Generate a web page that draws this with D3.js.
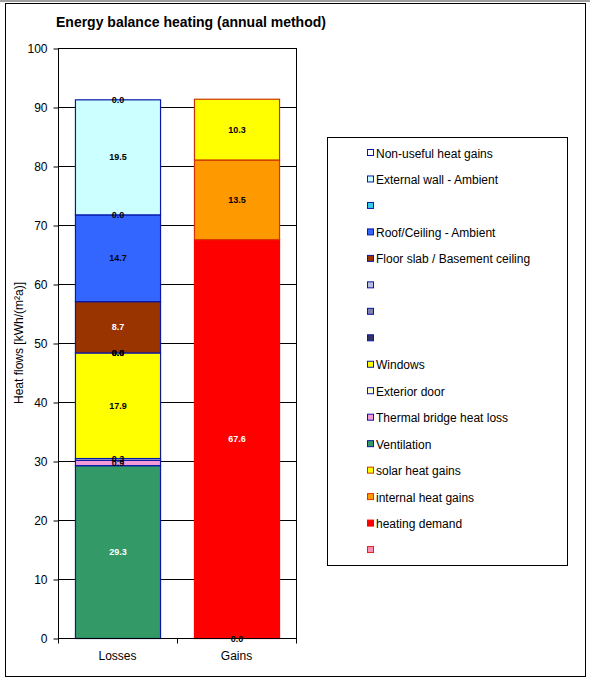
<!DOCTYPE html>
<html><head><meta charset="utf-8">
<script src="https://cdn.jsdelivr.net/npm/d3@7"></script>
<style>body{margin:0;background:#fff;} svg{display:block;font-family:Arial,"Liberation Sans",sans-serif;}</style>
</head><body>
<svg id="c" width="590" height="680"></svg>
<script>
const categories = ["Losses", "Gains"];
// series in stacking order (bottom to top); null = no data in that category
const seriesNames = ["", "heating demand", "internal heat gains", "solar heat gains",
  "Ventilation", "Thermal bridge heat loss", "Exterior door", "Windows",
  "", "", "", "Floor slab / Basement ceiling", "Roof/Ceiling - Ambient", "",
  "External wall - Ambient", "Non-useful heat gains"];
const lossValues = [null, null, null, null, 29.3, 0.9, 0.3, 17.9, 0.0, 0.0, 0.0, 8.7, 14.7, 0.0, 19.5, 0.0];
const gainValues = [0.0, 67.6, 13.5, 10.3, null, null, null, null, null, null, null, null, null, null, null, null];
const seriesColors = ["#FF8FB0", "#FF0000", "#FF9900", "#FFFF00",
  "#339966", "#F49AD8", "#FFFFCC", "#FFFF00",
  "#333366", "#8080B0", "#BDBDE0", "#993300", "#3366FF", "#33CCEE",
  "#CCFFFF", "#FFFFFF"];
const seriesBorders = ["#DD2222", "#FF0000", "#DD3300", "#CC3300",
  "#0818A8", "#0818A8", "#0818A8", "#0818A8",
  "#0818A8", "#0818A8", "#0818A8", "#0818A8", "#0818A8", "#0818A8",
  "#0818A8", "#0818A8"];
const yTicks = [0, 10, 20, 30, 40, 50, 60, 70, 80, 90, 100];

const svg = d3.select("#c");
// outer frame
svg.append("rect").attr("x", 0).attr("y", 0).attr("width", 590).attr("height", 2).attr("fill", "#a0a0a0");
svg.append("rect").attr("x", 5.5).attr("y", 3.5).attr("width", 580).attr("height", 673)
  .attr("fill", "#fff").attr("stroke", "#000").attr("stroke-width", 1);

svg.append("text").attr("x", 56).attr("y", 27).attr("font-size", 14).attr("font-weight", "bold")
  .text("Energy balance heating (annual method)");

const L = 58, R = 296, T = 48, B = 638;
const y = d3.scaleLinear().domain([0, 100]).range([B, T]);
const x = d3.scaleBand().domain(categories).range([L, R]).paddingInner(0.285).paddingOuter(0.1425);

// gridlines
svg.append("g").selectAll("line").data(yTicks.slice(1)).join("line")
  .attr("x1", L).attr("x2", R).attr("y1", d => Math.round(y(d)) + 0.5).attr("y2", d => Math.round(y(d)) + 0.5)
  .attr("stroke", "#000").attr("stroke-width", 1);
// plot border right/top
svg.append("rect").attr("x", L + 0.5).attr("y", T + 0.5).attr("width", R - L).attr("height", B - T)
  .attr("fill", "none").attr("stroke", "#000");

// stacking
const valuesByCat = {Losses: lossValues, Gains: gainValues};
const segs = [];
categories.forEach(cat => {
  let acc = 0;
  valuesByCat[cat].forEach((v, i) => {
    if (v === null) return;
    segs.push({cat, i, y0: acc, y1: acc + v, v});
    acc += v;
  });
});

const g = svg.append("g");
g.selectAll("rect").data(segs).join("rect")
  .attr("x", d => x(d.cat) + 0.5).attr("width", x.bandwidth())
  .attr("y", d => y(d.y1) + 0.5).attr("height", d => y(d.y0) - y(d.y1))
  .attr("fill", d => seriesColors[d.i]).attr("stroke", d => seriesBorders[d.i])
  .attr("stroke-width", d => d.v === 0 ? 2 : 1.2);

const darkFill = new Set(["#339966", "#993300", "#FF0000", "#333366"]);
g.selectAll("text").data(segs).join("text")
  .attr("x", d => x(d.cat) + x.bandwidth() / 2 + 0.5)
  .attr("y", d => y((d.y0 + d.y1) / 2) + 3.5)
  .attr("text-anchor", "middle").attr("font-size", 9).attr("font-weight", "bold")
  .attr("fill", d => (d.v > 1 && darkFill.has(seriesColors[d.i])) ? "#fff" : "#000")
  .text(d => d3.format(".1f")(d.v));

// y axis
const yAxis = d3.axisLeft(y).tickValues(yTicks).tickSize(5).tickPadding(6).tickFormat(d3.format("d"));
const ya = svg.append("g").attr("transform", `translate(${L + 0.5},0.5)`).call(yAxis);
ya.selectAll("text").attr("font-size", 12).attr("font-family", "Arial, 'Liberation Sans', sans-serif").attr("fill", "#000").attr("dy", "0.35em");
ya.selectAll("line,path").attr("stroke", "#000");
ya.select(".domain").attr("d", `M0,${T}V${B}`);

// x axis
const xa = svg.append("g").attr("transform", `translate(0,${B + 0.5})`);
xa.append("line").attr("x1", L).attr("x2", R + 1).attr("stroke", "#000");
[L, (L + R) / 2, R].forEach(px => xa.append("line").attr("x1", px + 0.5).attr("x2", px + 0.5).attr("y1", 0).attr("y2", 5).attr("stroke", "#000"));
xa.selectAll("text.cat").data(categories).join("text").attr("class", "cat")
  .attr("x", d => x(d) + x.bandwidth() / 2).attr("y", 21).attr("text-anchor", "middle")
  .attr("font-size", 12).text(d => d);

svg.append("text").attr("transform", "translate(23,343) rotate(-90)").attr("text-anchor", "middle")
  .attr("font-size", 12).text("Heat flows [kWh/(m²a)]");

// legend
svg.append("rect").attr("x", 327.5).attr("y", 137.5).attr("width", 240).attr("height", 428)
  .attr("fill", "#fff").attr("stroke", "#000");
const legendOrder = d3.range(seriesNames.length).reverse();
const lg = svg.append("g").selectAll("g").data(legendOrder).join("g")
  .attr("transform", (d, k) => `translate(367,${153 + k * 26.47})`);
lg.append("rect").attr("x", 0.5).attr("y", -3.5).attr("width", 6).attr("height", 6)
  .attr("fill", d => seriesColors[d]).attr("stroke", d => seriesBorders[d]);
lg.append("text").attr("x", 9).attr("y", 4.5).attr("font-size", 12).text(d => seriesNames[d]);
</script>
</body></html>
